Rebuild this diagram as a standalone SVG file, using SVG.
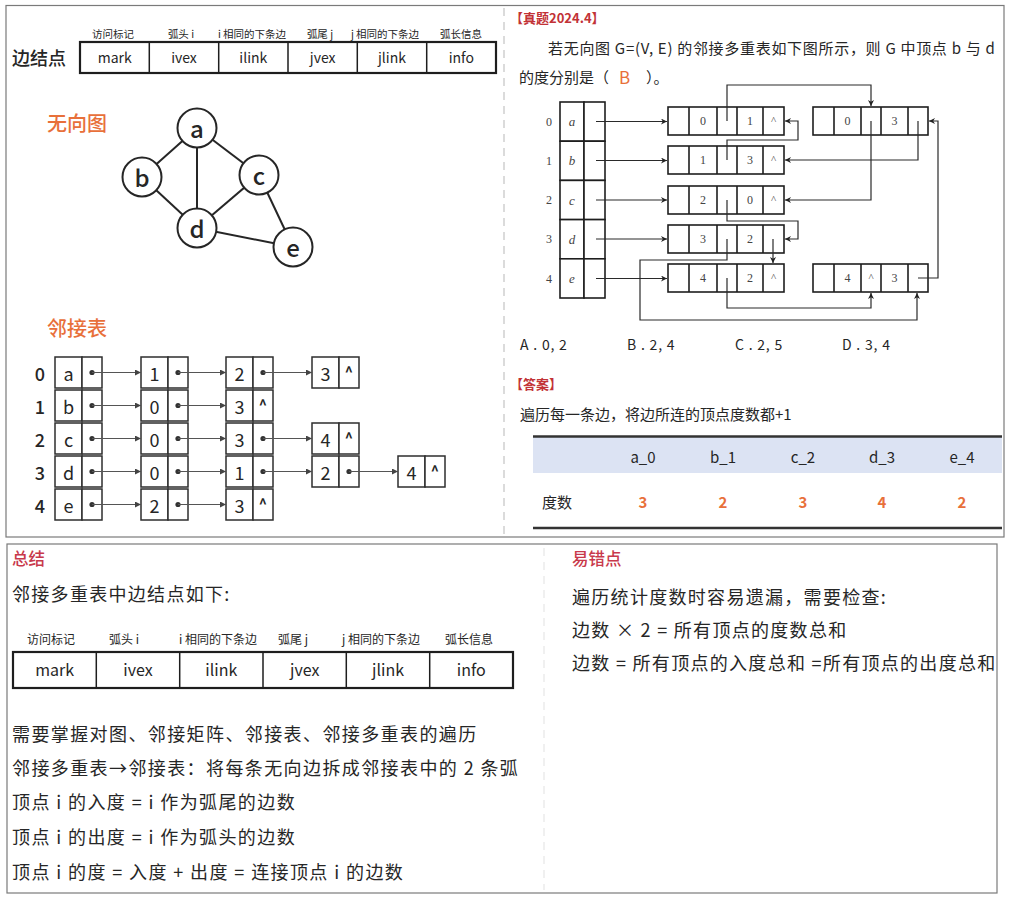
<svg xmlns="http://www.w3.org/2000/svg" width="1012" height="900" viewBox="0 0 1012 900">
  <defs>
    <!-- small arrowhead for the adjacency list pointers -->
    <marker id="ah-s" viewBox="0 0 10 10" refX="10" refY="5" markerWidth="7" markerHeight="6" orient="auto" markerUnits="userSpaceOnUse">
      <path d="M0,0 L10,5 L0,10 z" fill="#444"/>
    </marker>
    <!-- arrowhead for the multilist links -->
    <marker id="ah-m" viewBox="0 0 10 10" refX="10" refY="5" markerWidth="9" markerHeight="6" orient="auto" markerUnits="userSpaceOnUse">
      <path d="M0,0 L10,5 L0,10 L3,5 z" fill="#222"/>
    </marker>
  </defs>
  <style>
    .cn { font-family: "Noto Sans CJK SC", "Noto Sans", sans-serif; fill: #262626; }
    .sf { font-family: "Liberation Serif", "DejaVu Serif", serif; fill: #444; }
    .c { text-anchor: middle; dominant-baseline: central; }
    .m { dominant-baseline: central; }
    .frame { fill: none; stroke: #7a7a7a; stroke-width: 1.2; }
    .sep { stroke: #d0d0d0; stroke-width: 1.5; stroke-dasharray: 8 6; }
    .sep2 { stroke: #ececec; stroke-width: 1.5; stroke-dasharray: 8 6; }
    .tbl { fill: #fff; stroke: #1e1e1e; stroke-width: 1.5; }
    .tblo { fill: none; stroke: #1e1e1e; stroke-width: 2.2; }
    .gedge { stroke: #262626; stroke-width: 2; }
    .gnode { fill: #fff; stroke: #262626; stroke-width: 2; }
    .cell { fill: #fff; stroke: #2e2e2e; stroke-width: 1.5; }
    .ptr { stroke: #555; stroke-width: 1.2; fill: none; marker-end: url(#ah-s); }
    .dot { fill: #333; }
    .mcell { fill: #fff; stroke: #1e1e1e; stroke-width: 1.6; }
    .ml { fill: none; stroke: #2a2a2a; stroke-width: 1.2; marker-end: url(#ah-m); }
    .orange { fill: #E8703A; }
    .red { fill: #C23236; }
    .crim { fill: #C8394B; }
  </style>

  <!-- panel frames -->
  <rect class="frame" x="6" y="5.5" width="998" height="531.5"/>
  <line class="sep" x1="504" y1="8" x2="504" y2="535"/>
  <rect class="frame" x="7" y="544" width="990" height="349"/>
  <line class="sep2" x1="544" y1="548" x2="544" y2="890"/>

  <!-- edge node layout (top-left) -->
  <g id="edge-node-top">
    <text class="cn m" x="12" y="57" font-size="18" font-weight="500">边结点</text>
    <g class="cn c" font-size="10.5" fill="#333">
      <text x="113" y="33">访问标记</text>
      <text x="181" y="33">弧头 i</text>
      <text x="252" y="33">i 相同的下条边</text>
      <text x="320" y="33">弧尾 j</text>
      <text x="385" y="33">j 相同的下条边</text>
      <text x="461" y="33">弧长信息</text>
    </g>
    <rect class="tbl" x="80" y="42" width="416" height="31"/>
    <path d="M149.3,42V73M218.7,42V73M288,42V73M357.3,42V73M426.7,42V73" stroke="#1e1e1e" stroke-width="1.5"/>
    <rect class="tblo" x="80" y="42" width="416" height="31"/>
    <g class="cn c" font-size="14" fill="#333">
      <text x="114.7" y="57">mark</text>
      <text x="184" y="57">ivex</text>
      <text x="253.3" y="57">ilink</text>
      <text x="322.7" y="57">jvex</text>
      <text x="392" y="57">jlink</text>
      <text x="461.3" y="57">info</text>
    </g>
  </g>

  <!-- undirected graph -->
  <text class="cn m orange" x="47" y="122" font-size="20" font-weight="500">无向图</text>
  <g id="graph-edges">
    <line class="gedge" x1="197" y1="128" x2="142" y2="177"/>
    <line class="gedge" x1="197" y1="128" x2="197" y2="228"/>
    <line class="gedge" x1="197" y1="128" x2="259" y2="175"/>
    <line class="gedge" x1="142" y1="177" x2="197" y2="228"/>
    <line class="gedge" x1="259" y1="175" x2="197" y2="228"/>
    <line class="gedge" x1="259" y1="175" x2="293" y2="247"/>
    <line class="gedge" x1="197" y1="228" x2="293" y2="247"/>
  </g>
  <g id="node-a"><circle class="gnode" cx="197" cy="128" r="19.5"/><text class="cn c" x="197" y="127" font-size="24" font-weight="500">a</text></g>
  <g id="node-b"><circle class="gnode" cx="142" cy="177" r="19.5"/><text class="cn c" x="142" y="176" font-size="24" font-weight="500">b</text></g>
  <g id="node-c"><circle class="gnode" cx="259" cy="175" r="19.5"/><text class="cn c" x="259" y="174" font-size="24" font-weight="500">c</text></g>
  <g id="node-d"><circle class="gnode" cx="197" cy="228" r="19.5"/><text class="cn c" x="197" y="227" font-size="24" font-weight="500">d</text></g>
  <g id="node-e"><circle class="gnode" cx="293" cy="247" r="19.5"/><text class="cn c" x="293" y="246" font-size="24" font-weight="500">e</text></g>

  <!-- adjacency list -->
  <text class="cn m orange" x="47" y="327" font-size="20" font-weight="500">邻接表</text>
  <g id="adj-index" class="cn c" font-size="18" font-weight="500">
    <text x="40" y="372.5">0</text>
    <text x="40" y="405.5">1</text>
    <text x="40" y="438.5">2</text>
    <text x="40" y="471.5">3</text>
    <text x="40" y="504.5">4</text>
  </g>
  <g id="adj-row0">
    <rect class="cell" x="55" y="357" width="27" height="31"/><rect class="cell" x="82" y="357" width="20" height="31"/>
    <rect class="cell" x="141" y="357" width="27" height="31"/><rect class="cell" x="168" y="357" width="20" height="31"/>
    <rect class="cell" x="226" y="357" width="27" height="31"/><rect class="cell" x="253" y="357" width="20" height="31"/>
    <rect class="cell" x="312" y="357" width="27" height="31"/><rect class="cell" x="339" y="357" width="20" height="31"/>
    <g class="cn c" font-size="18"><text x="68.5" y="372.5">a</text><text x="154.5" y="372.5">1</text><text x="239.5" y="372.5">2</text><text x="325.5" y="372.5">3</text></g>
    <text class="cn c" x="349" y="371" font-size="14" font-weight="700">^</text>
    <circle class="dot" cx="92" cy="372.5" r="2.6"/><circle class="dot" cx="178" cy="372.5" r="2.6"/><circle class="dot" cx="263" cy="372.5" r="2.6"/>
  </g>
  <g id="adj-row1">
    <rect class="cell" x="55" y="390" width="27" height="31"/><rect class="cell" x="82" y="390" width="20" height="31"/>
    <rect class="cell" x="141" y="390" width="27" height="31"/><rect class="cell" x="168" y="390" width="20" height="31"/>
    <rect class="cell" x="226" y="390" width="27" height="31"/><rect class="cell" x="253" y="390" width="20" height="31"/>
    <g class="cn c" font-size="18"><text x="68.5" y="405.5">b</text><text x="154.5" y="405.5">0</text><text x="239.5" y="405.5">3</text></g>
    <text class="cn c" x="263" y="404" font-size="14" font-weight="700">^</text>
    <circle class="dot" cx="92" cy="405.5" r="2.6"/><circle class="dot" cx="178" cy="405.5" r="2.6"/>
  </g>
  <g id="adj-row2">
    <rect class="cell" x="55" y="423" width="27" height="31"/><rect class="cell" x="82" y="423" width="20" height="31"/>
    <rect class="cell" x="141" y="423" width="27" height="31"/><rect class="cell" x="168" y="423" width="20" height="31"/>
    <rect class="cell" x="226" y="423" width="27" height="31"/><rect class="cell" x="253" y="423" width="20" height="31"/>
    <rect class="cell" x="312" y="423" width="27" height="31"/><rect class="cell" x="339" y="423" width="20" height="31"/>
    <g class="cn c" font-size="18"><text x="68.5" y="438.5">c</text><text x="154.5" y="438.5">0</text><text x="239.5" y="438.5">3</text><text x="325.5" y="438.5">4</text></g>
    <text class="cn c" x="349" y="437" font-size="14" font-weight="700">^</text>
    <circle class="dot" cx="92" cy="438.5" r="2.6"/><circle class="dot" cx="178" cy="438.5" r="2.6"/><circle class="dot" cx="263" cy="438.5" r="2.6"/>
  </g>
  <g id="adj-row3">
    <rect class="cell" x="55" y="456" width="27" height="31"/><rect class="cell" x="82" y="456" width="20" height="31"/>
    <rect class="cell" x="141" y="456" width="27" height="31"/><rect class="cell" x="168" y="456" width="20" height="31"/>
    <rect class="cell" x="226" y="456" width="27" height="31"/><rect class="cell" x="253" y="456" width="20" height="31"/>
    <rect class="cell" x="312" y="456" width="27" height="31"/><rect class="cell" x="339" y="456" width="20" height="31"/>
    <rect class="cell" x="398" y="456" width="27" height="31"/><rect class="cell" x="425" y="456" width="20" height="31"/>
    <g class="cn c" font-size="18"><text x="68.5" y="471.5">d</text><text x="154.5" y="471.5">0</text><text x="239.5" y="471.5">1</text><text x="325.5" y="471.5">2</text><text x="411.5" y="471.5">4</text></g>
    <text class="cn c" x="435" y="470" font-size="14" font-weight="700">^</text>
    <circle class="dot" cx="92" cy="471.5" r="2.6"/><circle class="dot" cx="178" cy="471.5" r="2.6"/><circle class="dot" cx="263" cy="471.5" r="2.6"/><circle class="dot" cx="349" cy="471.5" r="2.6"/>
  </g>
  <g id="adj-row4">
    <rect class="cell" x="55" y="489" width="27" height="31"/><rect class="cell" x="82" y="489" width="20" height="31"/>
    <rect class="cell" x="141" y="489" width="27" height="31"/><rect class="cell" x="168" y="489" width="20" height="31"/>
    <rect class="cell" x="226" y="489" width="27" height="31"/><rect class="cell" x="253" y="489" width="20" height="31"/>
    <g class="cn c" font-size="18"><text x="68.5" y="504.5">e</text><text x="154.5" y="504.5">2</text><text x="239.5" y="504.5">3</text></g>
    <text class="cn c" x="263" y="503" font-size="14" font-weight="700">^</text>
    <circle class="dot" cx="92" cy="504.5" r="2.6"/><circle class="dot" cx="178" cy="504.5" r="2.6"/>
  </g>
  <g id="adj-pointers">
    <line class="ptr" x1="92" y1="372.5" x2="141" y2="372.5"/>
    <line class="ptr" x1="178" y1="372.5" x2="226" y2="372.5"/>
    <line class="ptr" x1="263" y1="372.5" x2="312" y2="372.5"/>
    <line class="ptr" x1="92" y1="405.5" x2="141" y2="405.5"/>
    <line class="ptr" x1="178" y1="405.5" x2="226" y2="405.5"/>
    <line class="ptr" x1="92" y1="438.5" x2="141" y2="438.5"/>
    <line class="ptr" x1="178" y1="438.5" x2="226" y2="438.5"/>
    <line class="ptr" x1="263" y1="438.5" x2="312" y2="438.5"/>
    <line class="ptr" x1="92" y1="471.5" x2="141" y2="471.5"/>
    <line class="ptr" x1="178" y1="471.5" x2="226" y2="471.5"/>
    <line class="ptr" x1="263" y1="471.5" x2="312" y2="471.5"/>
    <line class="ptr" x1="349" y1="471.5" x2="398" y2="471.5"/>
    <line class="ptr" x1="92" y1="504.5" x2="141" y2="504.5"/>
    <line class="ptr" x1="178" y1="504.5" x2="226" y2="504.5"/>
  </g>

  <!-- exam question -->
  <g id="question">
    <text class="cn m red" x="510" y="17" font-size="13" font-weight="700">【真题2024.4】</text>
    <text class="cn m" x="548" y="47" font-size="15" letter-spacing="0.7">若无向图 G=(V, E) 的邻接多重表如下图所示，则 G 中顶点 b 与 d</text>
    <text class="cn m" x="519" y="76" font-size="15">的度分别是（</text>
    <text class="cn m orange" x="619" y="76" font-size="17">B</text>
    <text class="cn m" x="646" y="76" font-size="15">）。</text>
  </g>

  <!-- adjacency multilist: vertex array -->
  <g id="ml-vertices">
    <rect class="mcell" x="560" y="102" width="24" height="39.2"/><rect class="mcell" x="584" y="102" width="21" height="39.2"/>
    <rect class="mcell" x="560" y="141.2" width="24" height="39.2"/><rect class="mcell" x="584" y="141.2" width="21" height="39.2"/>
    <rect class="mcell" x="560" y="180.4" width="24" height="39.2"/><rect class="mcell" x="584" y="180.4" width="21" height="39.2"/>
    <rect class="mcell" x="560" y="219.6" width="24" height="39.2"/><rect class="mcell" x="584" y="219.6" width="21" height="39.2"/>
    <rect class="mcell" x="560" y="258.8" width="24" height="39.2"/><rect class="mcell" x="584" y="258.8" width="21" height="39.2"/>
    <g class="sf c" font-size="12">
      <text x="549" y="121.5">0</text><text x="549" y="160.5">1</text><text x="549" y="200">2</text><text x="549" y="239">3</text><text x="549" y="278.5">4</text>
    </g>
    <g class="sf c" font-size="13" font-style="italic">
      <text x="572" y="121.5">a</text><text x="572" y="160.5">b</text><text x="572" y="200">c</text><text x="572" y="239">d</text><text x="572" y="278.5">e</text>
    </g>
  </g>

  <!-- adjacency multilist: edge nodes -->
  <g id="ml-edge-01">
    <rect class="mcell" x="668" y="107" width="116" height="28"/>
    <path d="M689,107V135M717,107V135M737,107V135M763,107V135" stroke="#1e1e1e" stroke-width="1.6"/>
    <g class="sf c" font-size="12"><text x="703" y="121">0</text><text x="750" y="121">1</text><text x="773.5" y="120" font-size="11">^</text></g>
  </g>
  <g id="ml-edge-13">
    <rect class="mcell" x="668" y="146" width="116" height="28"/>
    <path d="M689,146V174M717,146V174M737,146V174M763,146V174" stroke="#1e1e1e" stroke-width="1.6"/>
    <g class="sf c" font-size="12"><text x="703" y="160">1</text><text x="750" y="160">3</text><text x="773.5" y="159" font-size="11">^</text></g>
  </g>
  <g id="ml-edge-20">
    <rect class="mcell" x="668" y="186" width="116" height="28"/>
    <path d="M689,186V214M717,186V214M737,186V214M763,186V214" stroke="#1e1e1e" stroke-width="1.6"/>
    <g class="sf c" font-size="12"><text x="703" y="200">2</text><text x="750" y="200">0</text><text x="773.5" y="199" font-size="11">^</text></g>
  </g>
  <g id="ml-edge-32">
    <rect class="mcell" x="668" y="225" width="116" height="28"/>
    <path d="M689,225V253M717,225V253M737,225V253M763,225V253" stroke="#1e1e1e" stroke-width="1.6"/>
    <g class="sf c" font-size="12"><text x="703" y="239">3</text><text x="750" y="239">2</text></g>
  </g>
  <g id="ml-edge-42">
    <rect class="mcell" x="668" y="264" width="116" height="28"/>
    <path d="M689,264V292M717,264V292M737,264V292M763,264V292" stroke="#1e1e1e" stroke-width="1.6"/>
    <g class="sf c" font-size="12"><text x="703" y="278">4</text><text x="750" y="278">2</text><text x="773.5" y="277" font-size="11">^</text></g>
  </g>
  <g id="ml-edge-03">
    <rect class="mcell" x="813" y="107" width="115" height="28"/>
    <path d="M834,107V135M861,107V135M881,107V135M908,107V135" stroke="#1e1e1e" stroke-width="1.6"/>
    <g class="sf c" font-size="12"><text x="847.5" y="121">0</text><text x="894.5" y="121">3</text></g>
  </g>
  <g id="ml-edge-43">
    <rect class="mcell" x="813" y="264" width="115" height="28"/>
    <path d="M834,264V292M861,264V292M881,264V292M908,264V292" stroke="#1e1e1e" stroke-width="1.6"/>
    <g class="sf c" font-size="12"><text x="847.5" y="278">4</text><text x="871" y="277" font-size="11">^</text><text x="894.5" y="278">3</text></g>
  </g>

  <!-- adjacency multilist: links -->
  <g id="ml-links">
    <path class="ml" d="M596,121.5H667"/>
    <path class="ml" d="M596,160.5H667"/>
    <path class="ml" d="M596,200H667"/>
    <path class="ml" d="M596,239H667"/>
    <path class="ml" d="M596,278.5H667"/>
    <path class="ml" d="M727,121V85H871V106"/>
    <path class="ml" d="M727,160V140H798V121H785"/>
    <path class="ml" d="M918,121V160H785"/>
    <path class="ml" d="M871,121V200H785"/>
    <path class="ml" d="M727,200V221H798V239H785"/>
    <path class="ml" d="M773,239V263"/>
    <path class="ml" d="M727,239V260H640V320H917V293"/>
    <path class="ml" d="M727,278V308H871V293"/>
    <path class="ml" d="M918,278H938V121H929"/>
  </g>

  <!-- options and answer -->
  <g id="options" class="cn m" font-size="14" letter-spacing="0.8">
    <text x="520" y="344">A . 0, 2</text>
    <text x="627" y="344">B . 2, 4</text>
    <text x="735" y="344">C . 2, 5</text>
    <text x="842" y="344">D . 3, 4</text>
  </g>
  <g id="answer">
    <text class="cn m red" x="510" y="383" font-size="13" font-weight="700">【答案】</text>
    <text class="cn m" x="520" y="413" font-size="15">遍历每一条边，将边所连的顶点度数都+1</text>
  </g>
  <g id="degree-table">
    <rect x="533" y="437" width="469" height="36" fill="#DCE3F3"/>
    <line x1="533" y1="436.5" x2="1002" y2="436.5" stroke="#333" stroke-width="2.5"/>
    <line x1="533" y1="528" x2="1002" y2="528" stroke="#333" stroke-width="2.5"/>
    <g class="cn c" font-size="15">
      <text x="643" y="456">a_0</text>
      <text x="723" y="456">b_1</text>
      <text x="803" y="456">c_2</text>
      <text x="882" y="456">d_3</text>
      <text x="962" y="456">e_4</text>
    </g>
    <text class="cn m" x="542" y="501" font-size="15">度数</text>
    <g class="cn c orange" font-size="15" font-weight="700">
      <text x="643" y="501">3</text>
      <text x="723" y="501">2</text>
      <text x="803" y="501">3</text>
      <text x="882" y="501">4</text>
      <text x="962" y="501">2</text>
    </g>
  </g>

  <!-- summary -->
  <g id="summary">
    <text class="cn m crim" x="12" y="558" font-size="16.5" font-weight="500">总结</text>
    <text class="cn m" x="12" y="593" font-size="18" letter-spacing="1.3">邻接多重表中边结点如下:</text>
    <g class="cn c" font-size="12" fill="#333">
      <text x="51" y="638">访问标记</text>
      <text x="124" y="638">弧头 i</text>
      <text x="218" y="638">i 相同的下条边</text>
      <text x="293" y="638">弧尾 j</text>
      <text x="381" y="638">j 相同的下条边</text>
      <text x="469" y="638">弧长信息</text>
    </g>
    <rect class="tbl" x="13" y="652" width="500" height="36"/>
    <path d="M96.3,652V688M179.7,652V688M263,652V688M346.3,652V688M429.7,652V688" stroke="#1e1e1e" stroke-width="1.5"/>
    <rect class="tblo" x="13" y="652" width="500" height="36"/>
    <g class="cn c" font-size="16" fill="#333">
      <text x="54.7" y="669">mark</text>
      <text x="138" y="669">ivex</text>
      <text x="221.3" y="669">ilink</text>
      <text x="304.7" y="669">jvex</text>
      <text x="388" y="669">jlink</text>
      <text x="471.3" y="669">info</text>
    </g>
    <g class="cn m" font-size="18" letter-spacing="1.4">
      <text x="12" y="733">需要掌握对图、邻接矩阵、邻接表、邻接多重表的遍历</text>
      <text x="12" y="767">邻接多重表→邻接表：将每条无向边拆成邻接表中的 2 条弧</text>
      <text x="12" y="801">顶点 i 的入度 = i 作为弧尾的边数</text>
      <text x="12" y="836">顶点 i 的出度 = i 作为弧头的边数</text>
      <text x="12" y="871">顶点 i 的度 = 入度 + 出度 = 连接顶点 i 的边数</text>
    </g>
  </g>

  <!-- common mistakes -->
  <g id="pitfalls">
    <text class="cn m crim" x="572" y="558" font-size="16.5" font-weight="500">易错点</text>
    <g class="cn m" font-size="18" letter-spacing="1.3">
      <text x="572" y="596">遍历统计度数时容易遗漏，需要检查:</text>
      <text x="572" y="629">边数 × 2 = 所有顶点的度数总和</text>
      <text x="572" y="662">边数 = 所有顶点的入度总和 =所有顶点的出度总和</text>
    </g>
  </g>
</svg>
